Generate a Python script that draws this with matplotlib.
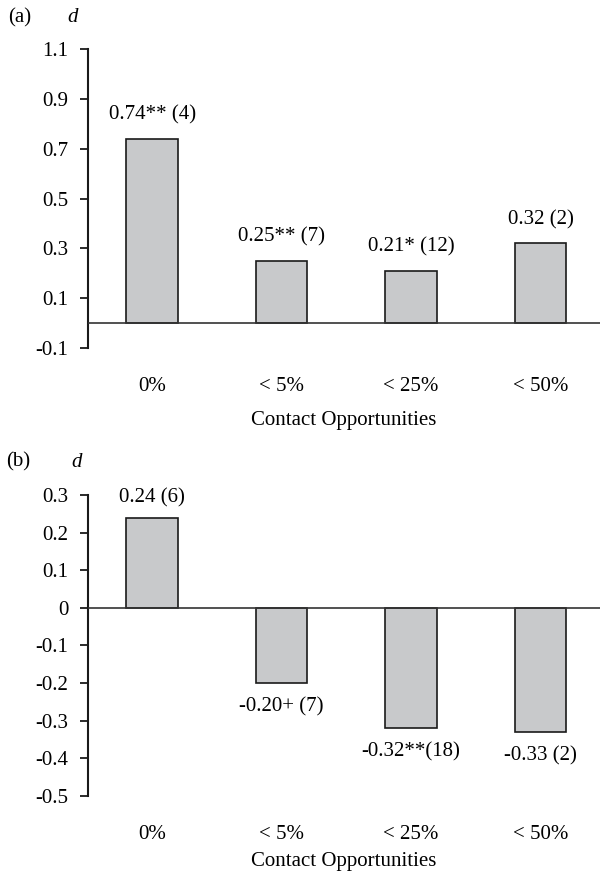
import matplotlib.pyplot as plt

# effect sizes by level of contact opportunity
categories = ['0%', '< 5%', '< 25%', '< 50%']
d_a = [0.74, 0.25, 0.21, 0.32]
labels_a = ['0.74** (4)', '0.25** (7)', '0.21* (12)', '0.32 (2)']
d_b = [0.24, -0.20, -0.32, -0.33]
labels_b = ['0.24 (6)', '-0.20+ (7)', '-0.32**(18)', '-0.33 (2)']

ticks_a = [-0.1, 0.1, 0.3, 0.5, 0.7, 0.9, 1.1]
ticks_b = [-0.5, -0.4, -0.3, -0.2, -0.1, 0, 0.1, 0.2, 0.3]

plt.rcParams['font.family'] = ['Liberation Serif', 'DejaVu Serif']
plt.rcParams['font.size'] = 15

fig = plt.figure(figsize=(6, 8.72), dpi=100)
ax_a = fig.add_axes([0.1467, 0.6009, 0.8533, 0.3429])
ax_b = fig.add_axes([0.1467, 0.0872, 0.8533, 0.3451])


def draw_panel(ax, vals, labels, ticks, fmt, up_off, down_off, xlab_pad):
    x = range(len(vals))
    ax.bar(x, vals, width=0.40, color='#c8c9cb', edgecolor='#1a1a1a', linewidth=1.2, zorder=2)
    ax.axhline(0, color='#333333', linewidth=1.2, zorder=3)
    for i, (v, lab) in enumerate(zip(vals, labels)):
        if v >= 0:
            ax.annotate(lab, (i, v), xytext=(0, up_off), textcoords='offset points',
                        ha='center', va='bottom')
        else:
            ax.annotate(lab, (i, v), xytext=(0, -down_off), textcoords='offset points',
                        ha='center', va='top')
    ax.set_xlim(-0.495, 3.46)
    ax.set_ylim(ticks[0], ticks[-1])
    ax.set_yticks(ticks)
    ax.set_yticklabels([fmt(t) for t in ticks])
    ax.set_xticks(list(x))
    ax.set_xticklabels(categories)
    ax.tick_params(axis='x', length=0, pad=21)
    ax.tick_params(axis='y', direction='out', length=6, width=1.3, pad=8, color='#1a1a1a')
    for s in ['top', 'right', 'bottom']:
        ax.spines[s].set_visible(False)
    ax.spines['left'].set_linewidth(1.5)
    ax.spines['left'].set_color('#1a1a1a')
    ax.set_xlabel('Contact Opportunities', labelpad=xlab_pad)


def fmt_a(t):
    return '%.1f' % t


def fmt_b(t):
    if abs(t) < 1e-9:
        return '0'
    return '%.1f' % t


draw_panel(ax_a, d_a, labels_a, ticks_a, fmt_a, 10, 8, 10.5)
draw_panel(ax_b, d_b, labels_b, ticks_b, fmt_b, 7, 10, 6)

fig.text(8 / 600, 1 - 18 / 872, '(a)', ha='left', va='center')
fig.text(73 / 600, 1 - 18 / 872, 'd', style='italic', ha='center', va='center')
fig.text(6 / 600, 1 - 462 / 872, '(b)', ha='left', va='center')
fig.text(77 / 600, 1 - 462 / 872, 'd', style='italic', ha='center', va='center')

plt.savefig('out.png', dpi=100)
